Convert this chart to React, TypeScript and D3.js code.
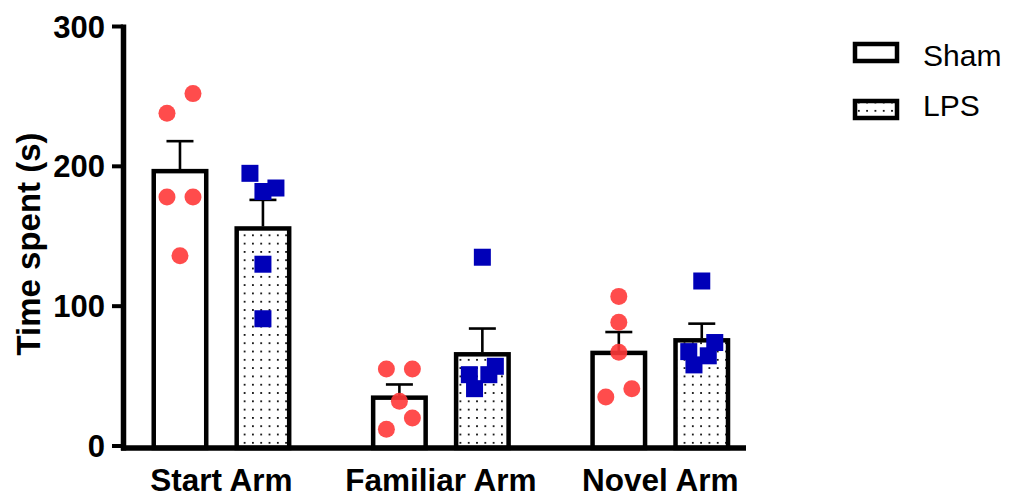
import { useEffect } from "react";
import * as d3 from "d3";

const GROUPS = ["Start Arm", "Familiar Arm", "Novel Arm"];
const SERIES = ["Sham", "LPS"];

const SHAM_MEAN = [198, 36, 68];
const SHAM_SEM = [20, 8, 13.5];
const LPS_MEAN = [157, 67, 77];
const LPS_SEM = [19, 17, 10.5];

// individual animals, per group
const SHAM_POINTS = [
  [252, 238, 178, 178, 136],
  [55, 55, 32, 20, 12],
  [107, 88.5, 67, 41, 35],
];
const LPS_POINTS = [
  [195, 182, 184.5, 130, 91],
  [135, 51, 41, 51, 57],
  [118, 67.5, 58, 64.5, 74],
];
// scatter column of each point (-1 left, 0 centre, +1 right)
const SHAM_COLS = [
  [1, -1, -1, 1, 0],
  [-1, 1, 0, 1, -1],
  [0, 0, 0, 1, -1],
];
const LPS_COLS = [
  [-1, 0, 1, 0, 0],
  [0, -1, -0.6, 0.5, 1],
  [0, -1, -0.6, 0.5, 1],
];

const Y_TICKS = [0, 100, 200, 300];

const FONT = "'Liberation Sans', Arial, Helvetica, sans-serif";

export default function App() {
  useEffect(() => {
    document.body.style.margin = "0";
  }, []);

  const W = 1010;
  const H = 497;

  const y = d3.scaleLinear().domain([0, 300]).range([446, 26.5]);

  const x0 = d3.scaleBand<string>().domain(GROUPS).range([111.75, 770]);
  const x1 = d3
    .scaleBand<string>()
    .domain(SERIES)
    .range([0, x0.bandwidth()])
    .paddingInner(0.313)
    .paddingOuter(0.479);

  const barW = x1.bandwidth() - 4.5;
  const axisY = 448;
  const colStep = 13;

  const series = [
    { key: "Sham", mean: SHAM_MEAN, sem: SHAM_SEM, fill: "#ffffff" },
    { key: "LPS", mean: LPS_MEAN, sem: LPS_SEM, fill: "url(#dots)" },
  ];

  const cx = (g: string, s: string) => (x0(g) ?? 0) + (x1(s) ?? 0) + x1.bandwidth() / 2;

  return (
    <svg width={W} height={H} style={{ display: "block" }}>
      <defs>
        <pattern id="dots" width="8.3" height="8.3" patternUnits="userSpaceOnUse" x="3" y="2">
          <rect x="0" y="0" width="1.8" height="1.8" fill="#111" />
        </pattern>
      </defs>
      <rect width={W} height={H} fill="#ffffff" />

      {/* bars */}
      {series.map((s) =>
        GROUPS.map((g, i) => {
          const c = cx(g, s.key);
          return (
            <rect
              key={s.key + g}
              x={c - barW / 2}
              y={y(s.mean[i]) + 2}
              width={barW}
              height={axisY - y(s.mean[i]) - 2}
              fill={s.fill}
              stroke="#000"
              strokeWidth={4.5}
            />
          );
        })
      )}

      {/* error bars */}
      {series.map((s) =>
        GROUPS.map((g, i) => {
          const c = cx(g, s.key);
          const top = y(s.mean[i] + s.sem[i]);
          return (
            <g key={"e" + s.key + g} stroke="#000" strokeWidth={2.6}>
              <line x1={c} x2={c} y1={y(s.mean[i])} y2={top} />
              <line x1={c - 13.5} x2={c + 13.5} y1={top} y2={top} />
            </g>
          );
        })
      )}

      {/* axes */}
      <line x1={123.5} x2={123.5} y1={24.5} y2={450.5} stroke="#000" strokeWidth={5.5} />
      <line x1={121} x2={746} y1={axisY} y2={axisY} stroke="#000" strokeWidth={5.5} />
      {Y_TICKS.map((t) => (
        <g key={t}>
          <line x1={112} x2={123} y1={y(t)} y2={y(t)} stroke="#000" strokeWidth={4} />
          <text
            x={105}
            y={y(t)}
            dy="0.36em"
            textAnchor="end"
            fontFamily={FONT}
            fontWeight="bold"
            fontSize={31}
          >
            {t}
          </text>
        </g>
      ))}
      <text
        transform="translate(40,244) rotate(-90)"
        textAnchor="middle"
        fontFamily={FONT}
        fontWeight="bold"
        fontSize={33}
      >
        Time spent (s)
      </text>
      {GROUPS.map((g) => (
        <text
          key={g}
          x={(x0(g) ?? 0) + x0.bandwidth() / 2}
          y={491}
          textAnchor="middle"
          fontFamily={FONT}
          fontWeight="bold"
          fontSize={31.5}
        >
          {g}
        </text>
      ))}

      {/* points */}
      {GROUPS.map((g, i) => (
        <g key={"p" + g}>
          {SHAM_POINTS[i].map((v, j) => (
            <circle
              key={j}
              cx={cx(g, "Sham") + SHAM_COLS[i][j] * colStep}
              cy={y(v)}
              r={8.5}
              fill="#ff3838"
              fillOpacity={0.9}
            />
          ))}
          {LPS_POINTS[i].map((v, j) => (
            <rect
              key={j}
              x={cx(g, "LPS") + LPS_COLS[i][j] * colStep - 8.5}
              y={y(v) - 8.5}
              width={17}
              height={17}
              fill="#0000b8"
            />
          ))}
        </g>
      ))}

      {/* legend */}
      {SERIES.map((s, i) => (
        <g key={s}>
          <rect
            x={855}
            y={44 + i * 57}
            width={42}
            height={17}
            fill={i === 0 ? "#fff" : "url(#dots)"}
            stroke="#000"
            strokeWidth={4.5}
          />
          <text x={923} y={66 + i * 50} fontFamily={FONT} fontSize={30}>
            {s}
          </text>
        </g>
      ))}
    </svg>
  );
}
